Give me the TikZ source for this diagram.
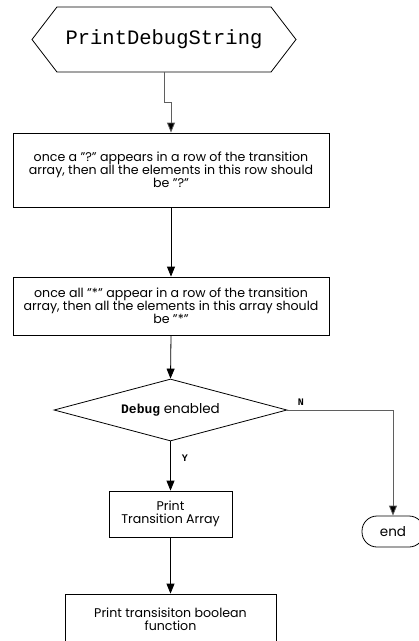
\documentclass[tikz,border=0pt]{standalone}
\usepackage{fontspec}
\setmainfont{Poppins}
\setmonofont{Liberation Mono}
\usetikzlibrary{arrows.meta,positioning,shapes.geometric,shapes.symbols}
\definecolor{flowGrey}{RGB}{95,95,95}

\begin{document}
\begin{tikzpicture}[x=1pt,y=-1pt,
  flowbox/.style={rectangle, draw, line width=0.8pt, align=center,
        inner sep=2pt, font=\fontsize{12.6}{13}\selectfont},
  startsign/.style={signal, signal to=west and east, signal pointer angle=105,
        draw, line width=0.8pt, minimum width=264pt, minimum height=65pt,
        inner sep=0pt, font=\ttfamily\fontsize{20.5}{22}\selectfont},
  decision/.style={diamond, draw, line width=0.8pt, aspect=3.76,
        minimum width=233pt, minimum height=62pt, inner sep=0pt,
        font=\fontsize{13.5}{14}\selectfont},
  terminal/.style={rectangle, rounded corners=15pt, draw, line width=0.8pt,
        minimum width=62pt, minimum height=31pt, font=\fontsize{13.5}{14}\selectfont},
  branchlabel/.style={font=\ttfamily\bfseries\fontsize{10}{10}\selectfont, inner sep=1pt},
  flowarrow/.style={draw, line width=0.8pt,
        -{Triangle[length=10pt,width=8pt,fill=black]}}]
  \useasboundingbox (0,0) rectangle (419,641);
  \clip (0,0) rectangle (419,641);

  % main column
  \node[startsign] (start) at (164,39.5) {PrintDebugString};
  \node[flowbox, minimum width=316pt, minimum height=74pt] (rowq) at (171,170)
    {once a "?" appears in a row of the transition\\
     array, then all the elements in this row should\\
     be "?"};
  \node[flowbox, minimum width=316pt, minimum height=58pt] (rowstar) at (171,306)
    {once all "*" appear in a row of the transition\\
     array, then all the elements in this array should\\
     be "*"};
  \node[decision] (dbg) at (170.5,410) {{\ttfamily\bfseries\fontsize{13}{14}\selectfont Debug} enabled};
  \node[flowbox, minimum width=123pt, minimum height=46pt] (prtarr) at (170.5,514)
    {Print\\Transition Array};
  \node[flowbox, minimum width=211pt, minimum height=50pt] (prtfun) at (170.5,619)
    {Print transisiton boolean\\function};
  \node[terminal] (end) at (393,531.5) {end};

  % connectors
  \draw[flowarrow, draw=flowGrey] (start.south) -- ++(0,30) -| (rowq.north);
  \draw[flowarrow] (rowq.south) -- (rowstar.north);
  \draw[flowarrow] (rowstar.south) -- (dbg.north);
  \draw[flowarrow] (dbg.south) -- node[branchlabel, pos=0.34, right=10pt] (yes) {Y} (prtarr.north);
  \draw[flowarrow] (prtarr.south) -- (prtfun.north);
  \draw[flowarrow, draw=flowGrey] (dbg.east) node[branchlabel, anchor=south west, xshift=9pt, yshift=3pt] (no) {N}
    -| (end.north);
\end{tikzpicture}
\end{document}
